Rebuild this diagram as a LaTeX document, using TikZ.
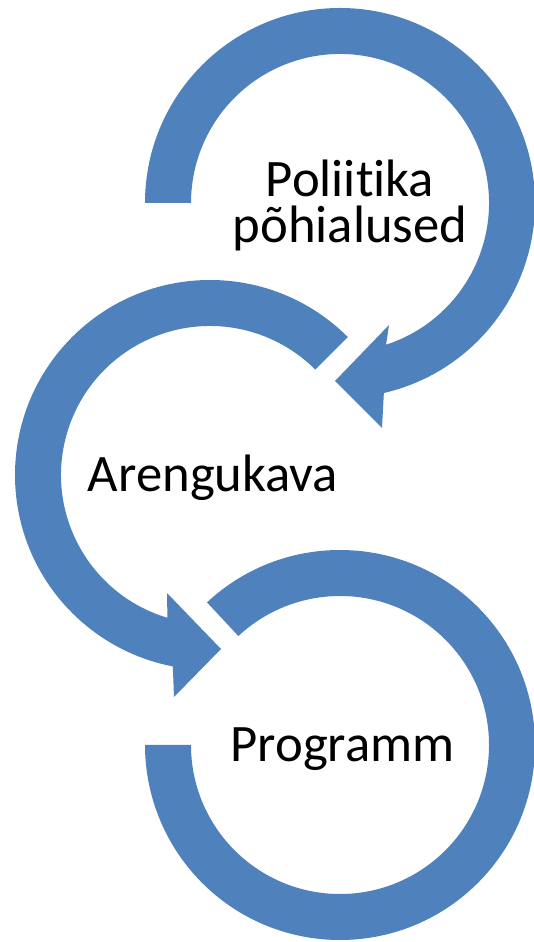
\documentclass[tikz,border=0pt]{standalone}
\usepackage{fontspec}
\setmainfont{Carlito}[Ligatures={NoCommon,NoContextual}]
\usetikzlibrary{calc}
\definecolor{arrowblue}{HTML}{4F81BD}
\begin{document}
\begin{tikzpicture}[x=0.75pt,y=0.75pt,
  ringarrow/.style={fill=arrowblue, draw=none},
  ringtext/.style={font=\fontsize{39.5}{35}\selectfont, text=black, inner sep=0pt, align=center}]
\useasboundingbox (0,0) rectangle (534,942);
\coordinate (c1) at (340,739);
\coordinate (c2) at (210,467);
\coordinate (c3) at (340,197);
% top ring
\fill[ringarrow] ($(c1)+(180:195)$) arc[start angle=180,end angle=-77,radius=195]
  -- (382,514) -- (335,561) -- (389,617) -- ($(c1)+(-72:149)$)
  arc[start angle=-72,end angle=180,radius=149] -- cycle;
% middle ring
\fill[ringarrow] ($(c2)+(45:195)$) arc[start angle=45,end angle=259,radius=195]
  -- (174,245) -- (221,293) -- (167,349) -- ($(c2)+(253.4:149)$)
  arc[start angle=253.4,end angle=45,radius=149] -- cycle;
% bottom ring
\fill[ringarrow] ($(c3)+(133:195)$) arc[start angle=133,end angle=-180,radius=195]
  -- ($(c3)+(-180:149)$) arc[start angle=-180,end angle=133,radius=149] -- cycle;
\node[ringtext, anchor=base] (t1) at (350,699) {Poliit\kern0pt ika\\põhialused};
\node[ringtext, anchor=base] (t2) at (213,450) {Arengukava};
\node[ringtext, anchor=base] (t3) at (342.5,180) {Programm};
\end{tikzpicture}
\end{document}
